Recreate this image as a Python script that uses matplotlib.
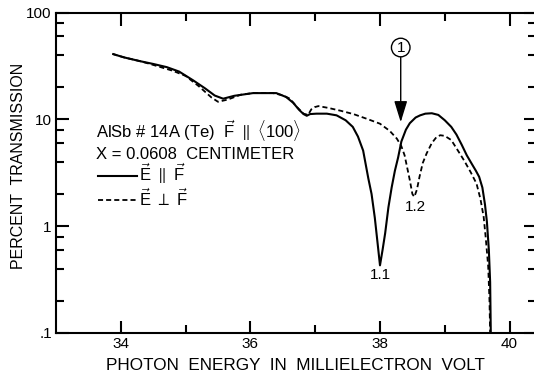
import matplotlib
matplotlib.use('Agg')
import matplotlib.pyplot as plt
from matplotlib.lines import Line2D

plt.rcParams['font.family'] = ['Liberation Sans', 'DejaVu Sans']
plt.rcParams['mathtext.fontset'] = 'custom'
plt.rcParams['mathtext.rm'] = 'Liberation Sans'
plt.rcParams['mathtext.it'] = 'Liberation Sans:italic'
plt.rcParams['mathtext.bf'] = 'Liberation Sans:bold'

# E parallel F (solid)
e_par_x = [33.87, 34.05, 34.30, 34.50, 34.71, 34.90, 35.12, 35.30, 35.45, 35.58,
           35.75, 36.04, 36.40, 36.55, 36.66, 36.75, 36.82, 36.87, 36.92, 37.02,
           37.18, 37.33, 37.47, 37.58, 37.66, 37.74, 37.82, 37.87, 37.92, 37.96,
           38.00, 38.04, 38.08, 38.13, 38.18, 38.23, 38.28, 38.33, 38.40, 38.46,
           38.55, 38.62, 38.70, 38.80, 38.90, 39.00, 39.10, 39.18, 39.26, 39.34,
           39.42, 39.48, 39.53, 39.58, 39.62, 39.65, 39.68, 39.70, 39.71]
e_par_y = [41, 38, 35, 33, 30.8, 28, 23.1, 19.5, 16.7, 15.6,
           16.6, 17.6, 17.6, 16.2, 14.3, 12.3, 11.2, 10.8, 11.2, 11.3,
           11.3, 10.9, 9.8, 8.5, 6.9, 5.1, 2.8, 2.0, 1.2, 0.72,
           0.43, 0.6, 0.86, 1.5, 2.3, 3.3, 4.4, 6.2, 8.0, 9.2,
           10.4, 10.9, 11.3, 11.4, 11.0, 9.8, 8.5, 7.2, 5.8, 4.6,
           3.8, 3.3, 2.9, 2.3, 1.6, 1.1, 0.6, 0.3, 0.1]

# E perpendicular F (dashed)
e_perp_x = [33.87, 34.05, 34.30, 34.45, 34.60, 34.80, 35.00, 35.20, 35.40, 35.50,
            35.65, 35.85, 36.04, 36.35, 36.50, 36.61, 36.72, 36.82, 36.89, 36.94,
            36.99, 37.05, 37.20, 37.40, 37.59, 37.80, 38.00, 38.15, 38.26, 38.33,
            38.38, 38.43, 38.46, 38.50, 38.53, 38.57, 38.61, 38.66, 38.72, 38.80,
            38.87, 38.93, 39.00, 39.10, 39.23, 39.30, 39.40, 39.49, 39.55, 39.60,
            39.63, 39.67, 39.69, 39.70]
e_perp_y = [41, 38, 35, 33, 31, 28.5, 25.5, 20.5, 16, 14.6,
            15.3, 17, 17.6, 17.6, 16.8, 15.6, 13.0, 11.3, 11.0, 12.4,
            13.0, 13.3, 12.8, 12.0, 11.2, 10.1, 9.1, 7.8, 6.6, 5.6,
            4.6, 3.3, 2.7, 2.0, 1.88, 2.2, 2.9, 3.9, 4.8, 6.0,
            6.8, 7.1, 7.0, 6.4, 4.8, 4.1, 3.2, 2.5, 1.8, 1.22,
            0.8, 0.42, 0.2, 0.1]

x_major = [34, 36, 38, 40]
x_minor = [35, 37, 39]
y_major = [0.1, 1, 10, 100]
y_major_labels = ['.1', '1', '10', '100']
y_minor = [0.2, 0.4, 0.6, 0.8, 2, 4, 6, 8, 20, 40, 60, 80]

fig = plt.figure(figsize=(5.34, 3.74), dpi=100)
ax = fig.add_axes([56 / 534, 41 / 374, 479.5 / 534, 320.5 / 374])

ax.plot(e_par_x, e_par_y, color='black', lw=1.5, solid_capstyle='butt')
ax.plot(e_perp_x, e_perp_y, color='black', lw=1.3, ls=(0, (2.8, 1.7)))

ax.set_yscale('log')
ax.set_xlim(33, 40.4)
ax.set_ylim(0.1, 100)

ax.set_xticks(x_major)
ax.set_xticks(x_minor, minor=True)
ax.set_yticks(y_major)
ax.set_yticklabels(y_major_labels)
ax.set_yticks(y_minor, minor=True)
ax.yaxis.set_minor_formatter(matplotlib.ticker.NullFormatter())

ax.tick_params(axis='both', which='both', direction='in', width=1.5,
               top=True, right=True, left=True, bottom=True,
               labelsize=11, pad=3, color='black')
ax.tick_params(which='major', length=9)
ax.tick_params(which='minor', length=5.5)
for s in ['left', 'bottom', 'top']:
    ax.spines[s].set_linewidth(1.5)
ax.spines['right'].set_visible(False)

ax.set_xlabel('PHOTON  ENERGY  IN  MILLIELECTRON  VOLT', fontsize=12.3, labelpad=5)
ax.set_ylabel('PERCENT  TRANSMISSION', fontsize=11.5)
ax.yaxis.set_label_coords(-0.062, 0.52)

ax.text(33.62, 7.7, r'AlSb # 14A (Te)  $\vec{\mathrm{F}}\ \parallel\ \langle$100$\rangle$',
        fontsize=12, va='center', ha='left')
ax.text(33.62, 4.7, 'X = 0.0608  CENTIMETER', fontsize=12, va='center', ha='left')

handles = [Line2D([], [], color='black', lw=1.5),
           Line2D([], [], color='black', lw=1.3, ls=(0, (2.8, 1.7)))]
labels = [r'$\vec{\mathrm{E}}\ \parallel\ \vec{\mathrm{F}}$',
          r'$\vec{\mathrm{E}}\ \perp\ \vec{\mathrm{F}}$']
ax.legend(handles, labels, loc='upper left', bbox_to_anchor=(0.0876, 0.534),
          frameon=False, fontsize=12, handlelength=2.34, handletextpad=0.1,
          borderpad=0, borderaxespad=0, labelspacing=0.06)

ax.text(38.0, 0.35, '1.1', fontsize=11, ha='center', va='center')
ax.text(38.54, 1.5, '1.2', fontsize=11, ha='center', va='center')

ax.annotate('1', xy=(38.32, 9.4), xytext=(38.32, 47), fontsize=11,
            ha='center', va='center',
            bbox=dict(boxstyle='circle,pad=0.15', fc='white', ec='black', lw=1),
            arrowprops=dict(arrowstyle='-|>,head_length=1.3,head_width=0.4',
                            color='black', lw=1, shrinkA=0, shrinkB=0,
                            mutation_scale=10))

fig.savefig('out.png', dpi=100)
